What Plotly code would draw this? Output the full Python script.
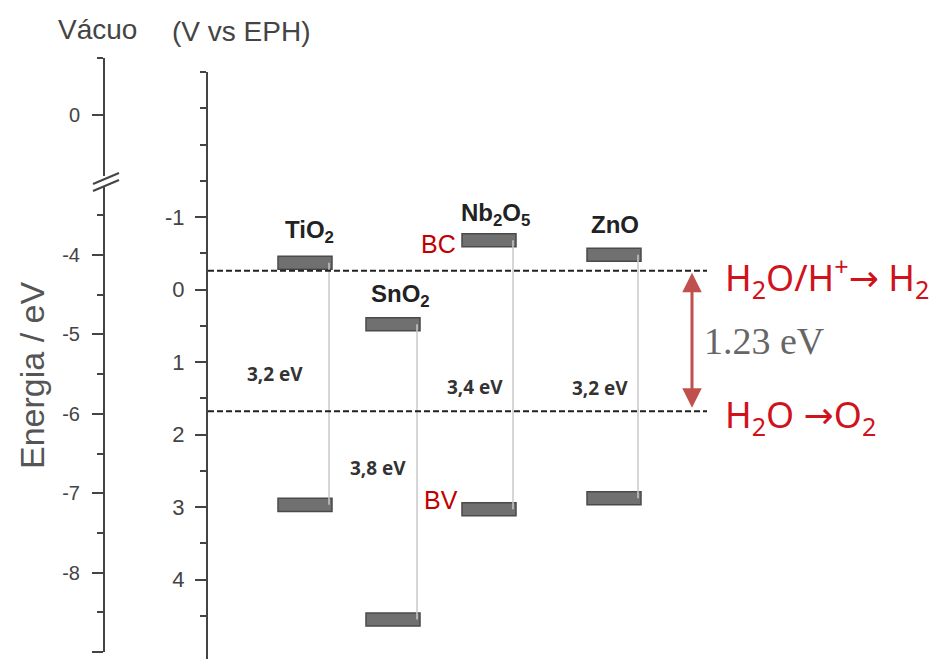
import plotly.graph_objects as go

# ---------------- data ----------------
materials = ["TiO<sub>2</sub>", "SnO<sub>2</sub>", "Nb<sub>2</sub>O<sub>5</sub>", "ZnO"]
cb_levels = [-0.37, 0.48, -0.68, -0.48]      # V vs EPH (banda de condução)
vb_levels = [2.97, 4.55, 3.03, 2.88]         # V vs EPH (banda de valência)
gap_labels = ["3,2 eV", "3,8 eV", "3,4 eV", "3,2 eV"]
h2_level = -0.26
o2_level = 1.68
water_gap_label = "1.23 eV"
right_ticks = [-1, 0, 1, 2, 3, 4]
left_ticks_low = [-4, -5, -6, -7, -8, -9]
left_ticks_high = [0]

# ---------------- layout / style ----------------
W, H = 944, 659
X0 = 208                              # pixel position of the EPH axis
x_pos = [3.05, 3.93, 4.89, 6.14]     # x axis: 1 unit = 100 px
bar_w = 0.54
bar_t = 0.18
lbl_dx = [4, 7, 6, 1]
lbl_dy = [31, 29, 26, 30]
gap_dx = [-24, -9, -8, -8]
gap_dy = [10, 4, -12, -11]
axis_col = "#444444"
red = "#d0121b"
arrow_red = "#c0504d"


def py(p):
    return 1 - p / H


fig = go.Figure()

# connector lines
for i in range(len(materials)):
    xr = x_pos[i] + bar_w / 2 - 0.03
    fig.add_trace(go.Scatter(x=[xr, xr], y=[cb_levels[i], vb_levels[i]], mode="lines",
                             line=dict(color="#c8c8c8", width=1.5), hoverinfo="skip",
                             showlegend=False))

# bands
for lv in (cb_levels, vb_levels):
    fig.add_trace(go.Bar(x=x_pos, y=[bar_t] * len(lv), base=[v - bar_t / 2 for v in lv],
                         width=bar_w,
                         marker=dict(color="#707070", line=dict(color="#4a4a4a", width=1.5)),
                         showlegend=False, hoverinfo="skip"))

# water redox levels
for lv in (h2_level, o2_level):
    fig.add_trace(go.Scatter(x=[X0 / 100, 7.07], y=[lv, lv], mode="lines",
                             line=dict(color="#222222", width=2, dash="6px,3px"),
                             hoverinfo="skip", showlegend=False))

# dummy traces for the vacuum-scale axes
fig.add_trace(go.Scatter(x=[None], y=[None], xaxis="x2", yaxis="y2", showlegend=False))
fig.add_trace(go.Scatter(x=[None], y=[None], xaxis="x3", yaxis="y3", showlegend=False))

ann = []
for i, m in enumerate(materials):
    ann.append(dict(x=x_pos[i], y=cb_levels[i], text="<b>" + m + "</b>", showarrow=False,
                    xshift=lbl_dx[i], yshift=lbl_dy[i],
                    font=dict(family="Liberation Sans", size=24, color="#222222")))
    xr = x_pos[i] + bar_w / 2 - 0.03
    ann.append(dict(x=xr, y=(cb_levels[i] + vb_levels[i]) / 2, text="<b>" + gap_labels[i] + "</b>",
                    showarrow=False, xanchor="right", xshift=gap_dx[i], yshift=gap_dy[i],
                    font=dict(family="Open Sans", size=19, color="#333333")))

arrow_span = '<span style="font-family:DejaVu Sans">\u2192</span>'
ann += [
    dict(x=x_pos[2] - bar_w / 2, y=cb_levels[2], text="BC", showarrow=False, xanchor="right",
         xshift=-4, yshift=-4, font=dict(family="Liberation Sans", size=25, color="#c00000")),
    dict(x=x_pos[2] - bar_w / 2, y=vb_levels[2], text="BV", showarrow=False, xanchor="right",
         xshift=-2, yshift=9, font=dict(family="Liberation Sans", size=25, color="#c00000")),
    dict(x=6.92, y=h2_level, ax=6.92, ay=o2_level, xref="x", yref="y", axref="x", ayref="y",
         text="", showarrow=True, arrowhead=2, startarrowhead=2, arrowside="end+start",
         arrowwidth=3, arrowsize=1.3, startarrowsize=1.3, arrowcolor=arrow_red,
         standoff=2, startstandoff=2),
    dict(x=7.02, y=(h2_level + o2_level) / 2, text=water_gap_label, showarrow=False, xanchor="left",
         font=dict(family="Liberation Serif", size=38, color="#666666")),
    dict(x=7.23, y=h2_level, text="H<sub>2</sub>O/H<sup>+</sup>" + arrow_span + " H<sub>2</sub>",
         showarrow=False, xanchor="left", yshift=-7, font=dict(family="Noto Sans", size=36, color=red)),
    dict(x=7.23, y=o2_level, text="H<sub>2</sub>O " + arrow_span + "O<sub>2</sub>", showarrow=False,
         xanchor="left", yshift=-5, font=dict(family="Noto Sans", size=36, color=red)),
    dict(x=97 / W, y=py(30), xref="paper", yref="paper", text="Vácuo", showarrow=False,
         xanchor="center", yanchor="middle",
         font=dict(family="Liberation Sans", size=28, color="#444444")),
    dict(x=241 / W, y=py(32), xref="paper", yref="paper", text="(V vs EPH)", showarrow=False,
         xanchor="center", yanchor="middle",
         font=dict(family="Liberation Sans", size=28, color="#444444")),
    dict(x=32 / W, y=py(376), xref="paper", yref="paper", text="Energia / eV", showarrow=False,
         xanchor="center", yanchor="middle", textangle=-90,
         font=dict(family="Liberation Sans", size=34, color="#555555")),
]

# axis break marks
shapes = []
for off in (0, 7):
    shapes.append(dict(type="line", xref="paper", yref="paper",
                       x0=93 / W, y0=py(184 + off), x1=119 / W, y1=py(173 + off),
                       line=dict(color=axis_col, width=2)))

axis_common = dict(showline=True, linecolor=axis_col, linewidth=2, ticks="outside",
                   tickwidth=2, tickcolor=axis_col, showgrid=False, zeroline=False,
                   side="left", tickmode="array", fixedrange=True)
hidden_x = dict(visible=False, fixedrange=True, range=[0, 1])

fig.update_layout(
    width=W, height=H, margin=dict(l=0, r=0, t=0, b=0),
    paper_bgcolor="white", plot_bgcolor="rgba(0,0,0,0)", barmode="overlay",
    xaxis=dict(range=[X0 / 100, W / 100], domain=[X0 / W, 1], visible=False, fixedrange=True,
               anchor="y"),
    yaxis=dict(range=[5.096, -3.0], domain=[0, py(72)], anchor="x",
               tickvals=right_ticks, ticktext=[str(v) for v in right_ticks], ticklen=11,
               ticklabelstandoff=6,
               tickfont=dict(family="Liberation Sans", size=22, color="#444444"),
               minor=dict(tickvals=[-3, -2.5, -2, -1.5, -0.5, 0.5, 1.5, 2.5, 3.5, 4.5],
                          ticklen=6, tickwidth=2, tickcolor=axis_col, ticks="outside"),
               **axis_common),
    xaxis2=dict(domain=[105 / W, 150 / W], anchor="y2", **hidden_x),
    yaxis2=dict(range=[-9, -9 + (652 - 186) / 79.4], domain=[py(652), py(186)], anchor="x2",
                tickvals=left_ticks_low, ticktext=[str(v) for v in left_ticks_low], ticklen=11,
                ticklabelstandoff=8,
                tickfont=dict(family="Liberation Sans", size=20, color="#444444"),
                minor=dict(tickvals=[-3.5, -4.5, -5.5, -6.5, -7.5, -8.5],
                           ticklen=6, tickwidth=2, tickcolor=axis_col, ticks="outside"),
                **axis_common),
    xaxis3=dict(domain=[105 / W, 150 / W], anchor="y3", **hidden_x),
    yaxis3=dict(range=[-0.535, 0.5], domain=[py(176), py(58)], anchor="x3",
                tickvals=left_ticks_high, ticktext=[str(v) for v in left_ticks_high], ticklen=11,
                ticklabelstandoff=8,
                tickfont=dict(family="Liberation Sans", size=20, color="#444444"),
                minor=dict(tickvals=[0.5], ticklen=6, tickwidth=2, tickcolor=axis_col,
                           ticks="outside"),
                **axis_common),
    annotations=ann, shapes=shapes, showlegend=False,
)

fig.write_html("out.html", config={"displayModeBar": False},
               post_script="document.documentElement.style.overflow='hidden';"
                           "document.body.style.margin='0';document.body.style.overflow='hidden';")
